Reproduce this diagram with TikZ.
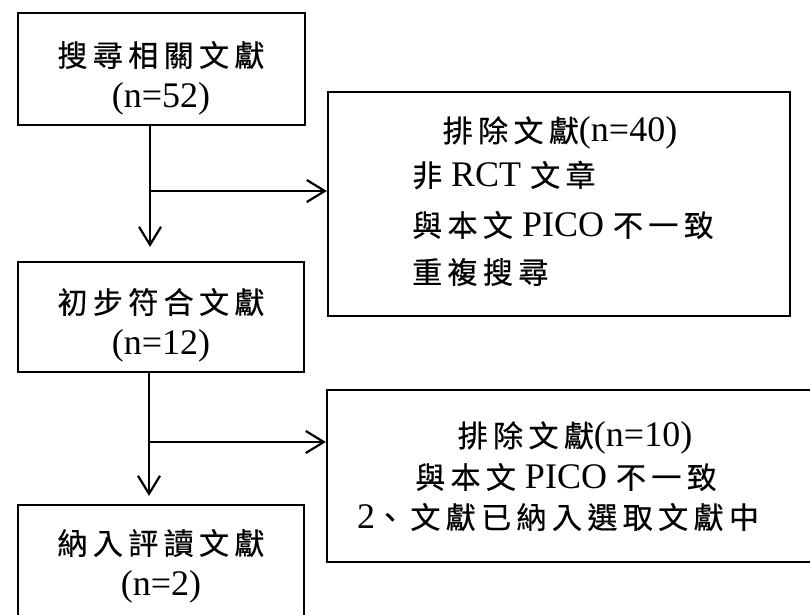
\documentclass[tikz,border=0pt]{standalone}
\usepackage{fontspec}
\setmainfont{Liberation Serif}
\newfontfamily\cjkf[LetterSpace=18,FakeBold=0.5]{Noto Sans CJK TC}
\usetikzlibrary{arrows.meta}
\newcommand{\zh}[1]{{\cjkf\fontsize{30}{40}\selectfont #1}}
\begin{document}
\begin{tikzpicture}[x=1pt,y=-1pt,
  font=\fontsize{36}{42}\selectfont,
  box/.style={draw, line width=2.2pt, inner sep=0pt},
  txt/.style={inner sep=0pt},
  arr/.style={line width=2.2pt, -{Straight Barb[length=18pt,width=22pt,line width=2.2pt]}}]
\useasboundingbox (0,0) rectangle (810,614);
\clip (0,0) rectangle (810,614);
% boxes
\node[box, minimum width=287pt, minimum height=112pt] (b1) at (161.5,69) {};
\node[box, minimum width=286pt, minimum height=110pt] (b2) at (161,317) {};
\node[box, minimum width=286pt, minimum height=120pt] (b4) at (161,565) {};
\node[box, minimum width=462pt, minimum height=224pt] (b3) at (559,204) {};
\node[box, minimum width=503pt, minimum height=172pt] (b5) at (578.5,476) {};
% texts
\node[txt] (b1t1) at (161,55) {\zh{搜尋相關文獻}};
\node[txt] (b1t2) at (161,99) {(n=52)};
\node[txt] (b2t1) at (161,302) {\zh{初步符合文獻}};
\node[txt] (b2t2) at (161,346) {(n=12)};
\node[txt] (b4t1) at (161,543) {\zh{納入評讀文獻}};
\node[txt] (b4t2) at (161,587) {(n=2)};
\node[txt] (b3t1) at (560,133) {\zh{排除文獻}(n=40)};
\node[txt, anchor=west] (b3t2) at (412,175) {\zh{非} RCT \zh{文章}};
\node[txt, anchor=west] (b3t3) at (412,225) {\zh{與本文} PICO \zh{不一致}};
\node[txt, anchor=west] (b3t4) at (412,272) {\zh{重複搜尋}};
\node[txt] (b5t1) at (575,438) {\zh{排除文獻}(n=10)};
\node[txt] (b5t2) at (566,477) {\zh{與本文} PICO \zh{不一致}};
\node[txt] (b5t3) at (558,517) {2\zh{、文獻已納入選取文獻中}};
% connectors
\coordinate (j1) at (150,191);
\coordinate (j2) at (149,442);
\draw[arr, shorten >=14pt] (b1.south -| j1) -- (b2.north -| j1);
\draw[arr] (j1) -- (j1 -| b3.west);
\draw[arr, shorten >=8pt] (b2.south -| j2) -- (b4.north -| j2);
\draw[arr] (j2) -- (j2 -| b5.west);
\end{tikzpicture}
\end{document}
